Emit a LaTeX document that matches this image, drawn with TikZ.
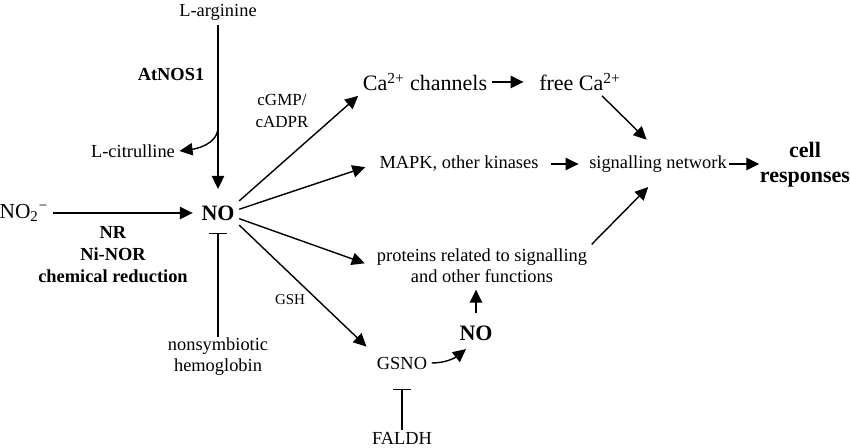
\documentclass[tikz,border=0pt]{standalone}
\usepackage{fontspec}
\setmainfont{Liberation Serif}
\usepackage{tikz}
\usetikzlibrary{arrows.meta}

\begin{document}
\begin{tikzpicture}[x=0.5pt, y=-0.5pt, >={Triangle[length=6.5pt, width=6.2pt]}, line width=0.7pt,
    txt/.style={font=\fontsize{9.2}{10.5}\selectfont, inner sep=2pt, align=center},
    bigtxt/.style={font=\fontsize{11}{13}\selectfont, inner sep=2pt},
    bnode/.style={font=\fontsize{11}{12.5}\selectfont\bfseries, inner sep=2pt, align=center},
    blbl/.style={font=\fontsize{9.2}{11}\selectfont\bfseries, align=center},
    inh/.style={-{Bar[width=9pt]}}]
    \useasboundingbox (0, 0) rectangle (850, 448);
    \node [txt] (arg) at (218, 12) {L-arginine};
    \node [blbl] (nos) at (171, 75) {AtNOS1};
    \node [txt] (citr) at (133, 151) {L-citrulline};
    \node [bnode] (no) at (218, 213) {NO};
    \node [bigtxt, font=\fontsize{10.7}{13}\selectfont] (nitr) at (24, 213) {NO\textsubscript{2}\textsuperscript{−}};
    \node [blbl] (nr) at (113, 255) {NR\\Ni-NOR\\chemical reduction};
    \node [txt] (hb) at (218, 357) {nonsymbiotic\\hemoglobin};
    \node [txt, font=\fontsize{8.5}{11}\selectfont] (cgmp) at (282, 111) {cGMP/\\cADPR};
    \node [bigtxt] (ca) at (425, 82) {Ca\textsuperscript{2+} channels};
    \node [bigtxt] (freeca) at (580, 82) {free Ca\textsuperscript{2+}};
    \node [txt] (mapk) at (459, 164) {MAPK, other kinases};
    \node [txt] (sig) at (658, 164) {signalling network};
    \node [bnode, inner sep=0pt] (cell) at (805, 165) {cell\\responses};
    \node [txt] (prot) at (482, 266) {proteins related to signalling\\and other functions};
    \node [txt, font=\fontsize{7.5}{9}\selectfont] (gsh) at (290, 300) {GSH};
    \node [txt] (gsno) at (402, 363) {GSNO};
    \node [bnode] (no2) at (476, 333) {NO};
    \node [txt] (faldh) at (402, 438) {FALDH};
    % synthesis
    \draw [->, shorten >=6pt] (arg) -- (no);
    \coordinate (br) at (218, 127);
    \draw [->] (br) .. controls +(0, 18) and +(15, -2) .. (citr.east);
    \draw [->, shorten >=2pt] (nitr) -- (no);
    \draw [inh, shorten <=-2pt, shorten >=4pt] (hb) -- (no);
    % targets of NO
    \draw [->] (no.north east) -- (ca.south west);
    \draw [->, shorten >=5pt] (no.10) -- (mapk.west);
    \draw [->, shorten >=4pt] (no.-15) -- (prot.west);
    \draw [->, shorten >=4pt] (no.south east) -- (gsno.north west);
    \draw [->, shorten >=5.5pt] (ca) -- (freeca);
    \draw [->, shorten >=8pt] ([xshift=11pt]freeca.south) -- (sig.north);
    \draw [->, shorten <=4pt, shorten >=3pt] (mapk) -- (sig);
    \draw [->, shorten <=-1pt] (sig.east) -- (sig.east -| cell.west);
    \draw [->, shorten >=7pt] (prot.north east) -- (sig.south);
    % GSNO branch
    \draw [->, shorten <=4pt, shorten >=1pt] (no2.north) -- (no2.north |- prot.south);
    \draw [->] (gsno.east) .. controls +(15, 0) and +(-10, 8) .. ([xshift=-5pt, yshift=-2pt]no2.south);
    \draw [inh, shorten <=-1.5pt, shorten >=7.5pt] (faldh) -- (gsno);
\end{tikzpicture}
\end{document}
